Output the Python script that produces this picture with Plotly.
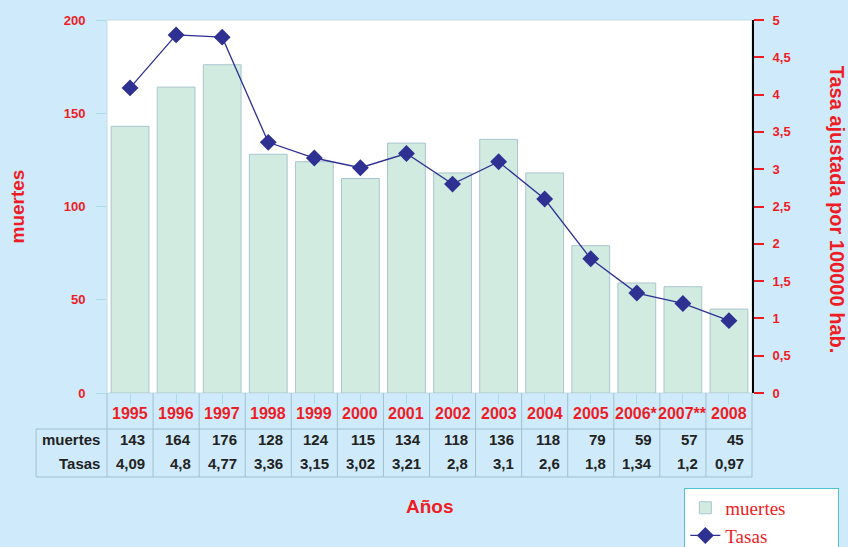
import plotly.graph_objects as go

# ── Data ──────────────────────────────────────────────────────────────────────
years = ["1995", "1996", "1997", "1998", "1999", "2000", "2001",
         "2002", "2003", "2004", "2005", "2006*", "2007**", "2008"]
muertes = [143, 164, 176, 128, 124, 115, 134, 118, 136, 118, 79, 59, 57, 45]
tasas = [4.09, 4.8, 4.77, 3.36, 3.15, 3.02, 3.21, 2.8, 3.1, 2.6, 1.8, 1.34, 1.2, 0.97]
tasas_txt = ["4,09", "4,8", "4,77", "3,36", "3,15", "3,02", "3,21",
             "2,8", "3,1", "2,6", "1,8", "1,34", "1,2", "0,97"]

RED = "#EE1C25"
NAVY = "#2E3192"
BG = "#CFEBFB"
GRID = "#9FC0CE"
PAD = "&nbsp;" * 10   # widens the legend box like the original

fig = go.Figure()
fig.add_trace(go.Bar(x=years, y=muertes, name="muertes" + PAD,
                     marker=dict(color="#D2EBE1", line=dict(color="#A9C5CF", width=1)),
                     width=0.82))
fig.add_trace(go.Scatter(x=years, y=tasas, name="Tasas", yaxis="y2",
                         mode="lines+markers",
                         line=dict(color=NAVY, width=1.3),
                         marker=dict(symbol="diamond", size=13, color=NAVY)))

# ── Data table under the plot ─────────────────────────────────────────────────
n = len(years)
y_year, y_m, y_t = -0.056, -0.126, -0.19
for i, yr in enumerate(years):
    # category axis: position by index so "1995" isn't read as a number
    fig.add_annotation(x=i, y=y_year, xref="x", yref="paper", text=yr, yanchor="middle",
                       showarrow=False, font=dict(color=RED, size=16, family="Arial"))
    fig.add_annotation(x=i, y=y_m, xref="x", yref="paper", text=str(muertes[i]),
                       showarrow=False, xanchor="right", yanchor="middle", xshift=17,
                       font=dict(color="#222222", size=15, family="Arial"))
    fig.add_annotation(x=i, y=y_t, xref="x", yref="paper", text=tasas_txt[i],
                       showarrow=False, xanchor="right", yanchor="middle", xshift=17,
                       font=dict(color="#222222", size=15, family="Arial"))

for lbl, yy in [("muertes", y_m), ("Tasas", y_t)]:
    fig.add_annotation(x=-0.008, y=yy, xref="paper", yref="paper", text=lbl,
                       showarrow=False, xanchor="right", yanchor="middle",
                       font=dict(color="#222222", size=15, family="Arial"))

for a in fig.layout.annotations:
    a.font.weight = "bold"

tbl_top, tbl_bot, tbl_left = -0.0965, -0.2252, -0.110
shapes = [
    dict(type="line", xref="paper", yref="paper", x0=tbl_left, x1=1, y0=tbl_top, y1=tbl_top,
         line=dict(color=GRID, width=1)),
    dict(type="line", xref="paper", yref="paper", x0=tbl_left, x1=1, y0=tbl_bot, y1=tbl_bot,
         line=dict(color=GRID, width=1)),
    dict(type="line", xref="paper", yref="paper", x0=tbl_left, x1=tbl_left, y0=tbl_top, y1=tbl_bot,
         line=dict(color=GRID, width=1)),
    dict(type="rect", xref="paper", yref="paper", x0=0, x1=1, y0=0, y1=1,
         line=dict(color="#C3DCE4", width=1), layer="below"),
]
for k in range(n + 1):
    shapes.append(dict(type="line", xref="paper", yref="paper", x0=k / n, x1=k / n,
                       y0=0, y1=tbl_bot, line=dict(color=GRID, width=1)))

fig.add_annotation(x=0.5, y=-0.303, xref="paper", yref="paper", text="<b>Años</b>",
                   xanchor="center", yanchor="middle",
                   showarrow=False, font=dict(color=RED, size=19, family="Arial"))
fig.add_annotation(x=-0.138, y=0.5, xref="paper", yref="paper", text="<b>muertes</b>",
                   xanchor="center", yanchor="middle",
                   showarrow=False, textangle=-90, font=dict(color=RED, size=19, family="Arial"))
fig.add_annotation(x=1.131, y=0.49, xref="paper", yref="paper",
                   text="<b>Tasa ajustada por 100000 hab.</b>",
                   xanchor="center", yanchor="middle",
                   showarrow=False, textangle=90, font=dict(color=RED, size=20, family="Arial"))

fig.update_layout(
    width=848, height=547,
    margin=dict(l=107, r=96, t=20, b=154, autoexpand=False),
    paper_bgcolor=BG, plot_bgcolor="white",
    separators=",.",
    shapes=shapes,
    showlegend=True,
    legend=dict(xref="container", yref="container", x=0.807, y=0.108,
                xanchor="left", yanchor="top",
                bgcolor="white", bordercolor="#4EC3CB", borderwidth=1,
                font=dict(family="Liberation Serif, Times New Roman, serif", size=19, color=RED),
                tracegroupgap=2),
    xaxis=dict(type="category", range=[-0.5, n - 0.5], showticklabels=False,
               ticks="outside", ticklen=10, tickcolor="#A8DDE8", showgrid=False,
               showline=False, zeroline=False),
    yaxis=dict(range=[0, 200], dtick=50, ticks="outside", ticklen=10, tickcolor="#A8DDE8",
               showgrid=False, zeroline=False, showline=False, ticklabelstandoff=8,
               tickfont=dict(color=RED, size=13, family="Arial", weight="bold")),
    yaxis2=dict(range=[0, 5], dtick=0.5, overlaying="y", side="right",
                ticks="outside", ticklen=10, tickwidth=2, tickcolor=RED,
                showline=True, linecolor="black", linewidth=2, ticklabelstandoff=6,
                showgrid=False, zeroline=False,
                tickfont=dict(color=RED, size=13, family="Arial", weight="bold")),
)

fig.write_html("out.html", config={"displayModeBar": False},
               post_script="document.body.style.margin='0';")
